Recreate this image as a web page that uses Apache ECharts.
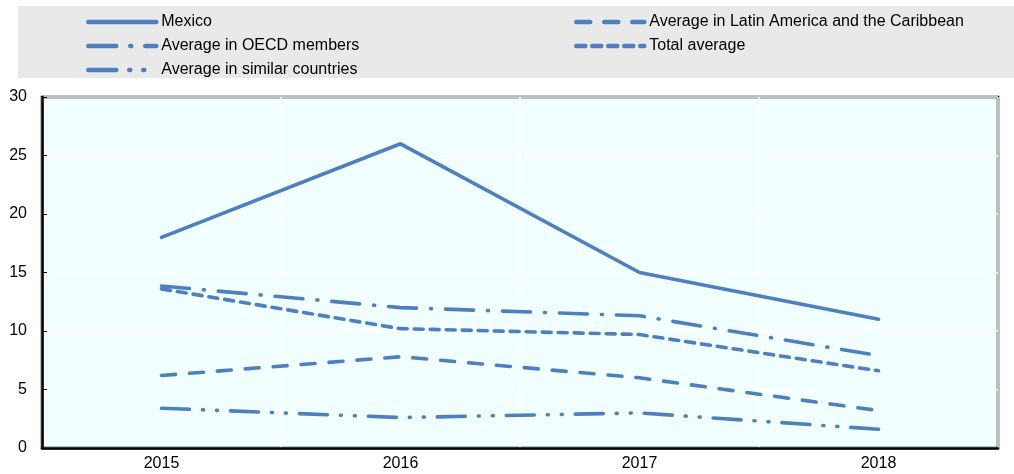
<!DOCTYPE html>
<html><head><meta charset="utf-8">
<script src="https://cdn.jsdelivr.net/npm/echarts@6/dist/echarts.min.js"></script>
<style>html,body{margin:0;padding:0;background:#fff}#c{width:1014px;height:474px}</style>
</head><body><div id="c"></div>
<script>
const years = ['2015','2016','2017','2018'];
const mexico = [18, 26, 15, 11];
const lac = [6.2, 7.8, 6.0, 3.2];
const oecd = [13.85, 12.0, 11.3, 7.9];
const totalAvg = [13.6, 10.2, 9.7, 6.6];
const similar = [3.4, 2.6, 3.0, 1.6];
const yTicks = [0, 5, 10, 15, 20, 25, 30];

const color = '#4e7fbe';
const font = 'Liberation Sans, Arial, sans-serif';
function mk(name, data, type){
  return {name, type:'line', data, symbol:'none', smooth:false,
    lineStyle:{color, width:3.6, type, cap:'round'}, itemStyle:{color}};
}
const legendCommon = {orient:'vertical', top:9, itemWidth:68, itemHeight:12, itemGap:8,
  itemStyle:{opacity:0}, lineStyle:{width:4.5, cap:'round'},
  textStyle:{fontSize:16, color:'#000', fontFamily:font, padding:[0,0,0,0]}};
const chart = echarts.init(document.getElementById('c'));
chart.setOption({
  animation:false,
  graphic:[{type:'rect', shape:{x:18,y:6,width:996,height:72}, style:{fill:'#e9e9e9'}, z:-1}],
  legend:[
    Object.assign({left:81, data:['Mexico','Average in OECD members','Average in similar countries']}, legendCommon),
    Object.assign({left:569, data:['Average in Latin America and the Caribbean','Total average']}, legendCommon)
  ],
  grid:{left:42, right:16, top:97, bottom:26, show:true, backgroundColor:'#f1fffe', borderColor:'#000', borderWidth:2.5},
  xAxis:{type:'category', data:years, boundaryGap:true,
    axisLine:{lineStyle:{color:'#000', width:2.5}},
    axisTick:{inside:true, length:5, lineStyle:{color:'#000'}},
    splitLine:{show:true, lineStyle:{color:'#ffffff', width:1.5}},
    axisLabel:{fontSize:16, color:'#000', fontFamily:font, margin:8}},
  yAxis:{type:'value', min:0, max:30, interval:5,
    axisLine:{show:true, lineStyle:{color:'#000', width:2.5}},
    axisTick:{show:true, inside:true, length:5, lineStyle:{color:'#000'}},
    splitLine:{show:true, lineStyle:{color:'#ffffff', width:1.5}},
    axisLabel:{fontSize:16, color:'#000', fontFamily:font, margin:15,
      formatter:v=>yTicks.includes(v)?String(v):''}},
  series:[
    mk('Mexico', mexico, 'solid'),
    mk('Average in Latin America and the Caribbean', lac, [14,14]),
    mk('Average in OECD members', oecd, [28,14,1,14]),
    mk('Total average', totalAvg, [9,7]),
    mk('Average in similar countries', similar, [28,13,1,13,1,13])
  ]
});
</script></body></html>
